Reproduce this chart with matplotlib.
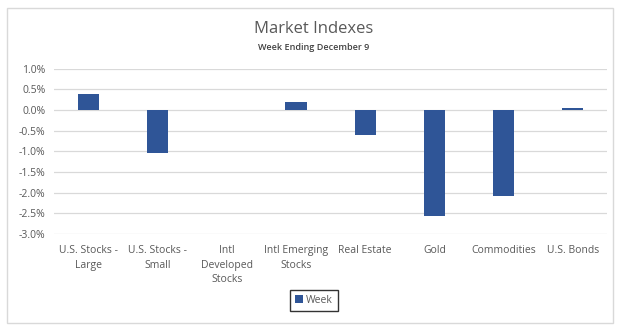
import numpy as np
import matplotlib.pyplot as plt
from matplotlib.patches import Rectangle
from matplotlib.ticker import FuncFormatter

# weekly returns, in percent
categories = ["U.S. Stocks -\nLarge", "U.S. Stocks -\nSmall", "Intl\nDeveloped\nStocks",
              "Intl Emerging\nStocks", "Real Estate", "Gold", "Commodities", "U.S. Bonds"]
week = [0.39, -1.05, 0.0, 0.20, -0.60, -2.56, -2.07, 0.06]
yticks = [1.0, 0.5, 0.0, -0.5, -1.0, -1.5, -2.0, -2.5, -3.0]

plt.rcParams['font.family'] = ['Open Sans', 'DejaVu Sans']
text_gray = '#595959'

fig = plt.figure(figsize=(6.28, 3.31), dpi=100)
ax = fig.add_axes([0.086, 0.293, 0.881, 0.499])

x = np.arange(len(categories))
ax.bar(x, week, width=0.31, color='#2F5597', label='Week', zorder=3)

ax.set_xlim(-0.5, len(categories) - 0.5)
ax.set_ylim(-3.0, 1.0)
ax.set_yticks(yticks)
ax.yaxis.set_major_formatter(FuncFormatter(lambda v, p: f"{v:.1f}%"))
ax.set_xticks(x)
ax.set_xticklabels(categories, linespacing=1.45)
ax.tick_params(axis='both', length=0, labelsize=7.5, colors=text_gray)
ax.tick_params(axis='x', pad=8)
ax.tick_params(axis='y', pad=6)
ax.grid(axis='y', color='#d9d9d9', linewidth=0.9, zorder=0)
for s in ax.spines.values():
    s.set_visible(False)

fig.text(0.5, 0.912, "Market Indexes", ha='center', va='center', fontsize=12, color=text_gray)
fig.text(0.5, 0.858, "Week Ending December 9", ha='center', va='center', fontsize=6.5,
         color='#404040', fontweight='semibold')

# outer chart border
fig.patches.append(Rectangle((7 / 628, 8 / 331), 606 / 628, 315 / 331, transform=fig.transFigure,
                             fill=False, edgecolor='#d9d9d9', linewidth=1))

leg = fig.legend(loc='center', bbox_to_anchor=(0.5, 0.093), fontsize=7.5, frameon=True,
                 handlelength=0.7, handleheight=0.7, handletextpad=0.3, borderpad=0.5,
                 fancybox=False, edgecolor='black')
leg.get_frame().set_linewidth(1)
for t in leg.get_texts():
    t.set_color(text_gray)

fig.savefig('out.png', dpi=100)
